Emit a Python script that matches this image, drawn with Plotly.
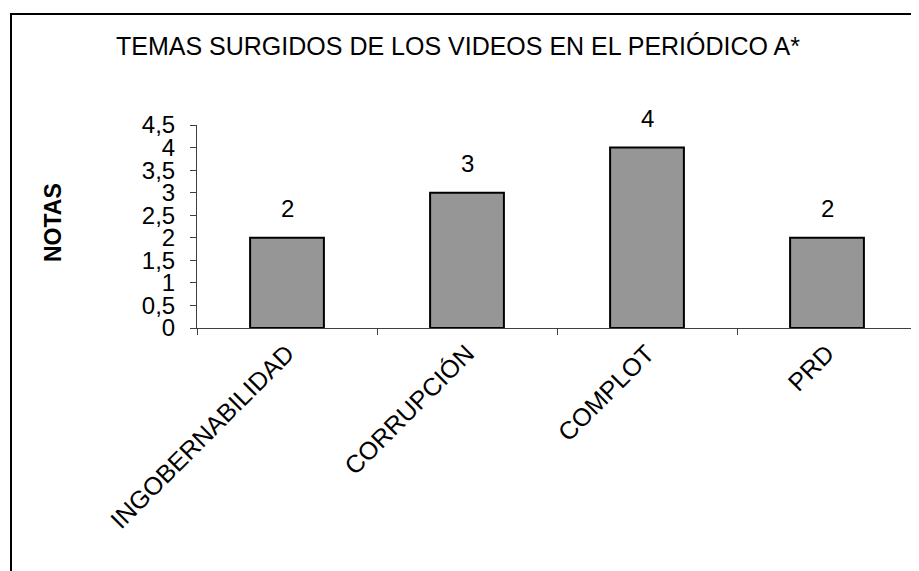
import plotly.graph_objects as go

categories = ["INGOBERNABILIDAD", "CORRUPCIÓN", "COMPLOT", "PRD"]
values = [2, 3, 4, 2]
y_ticks = [0, 0.5, 1, 1.5, 2, 2.5, 3, 3.5, 4, 4.5]

FONT = "Liberation Sans, Arial, sans-serif"
OFF = 8  # page body margin offset

L, T, R, B = 197 - OFF, 125 - OFF, 919 - (917 - OFF), 571 - (328 - OFF)
PW, PH = 919 - L - R, 571 - T - B

fig = go.Figure()
fig.add_trace(go.Bar(
    x=categories, y=values, width=0.41,
    marker=dict(color="#969696", line=dict(color="#000000", width=2)),
    hoverinfo="skip",
))

for c, v in zip(categories, values):
    fig.add_annotation(x=c, y=v, xref="x", yref="y", text=str(v), showarrow=False,
                       yanchor="middle", yshift=29,
                       font=dict(family=FONT, size=24, color="#000000"))

fig.add_annotation(x=(53 - 197) / PW, y=(328 - 223) / PH, xref="paper", yref="paper",
                   text="<b>NOTAS</b>",
                   textangle=-90, showarrow=False, xanchor="center", yanchor="middle",
                   font=dict(family=FONT, size=23, color="#000000"))

fig.add_shape(type="rect", xref="paper", yref="paper",
              x0=(11 - 197) / PW, y0=(328 - 14) / PH, x1=1.2, y1=-2.0,
              line=dict(color="#000000", width=2), fillcolor="rgba(0,0,0,0)")

fig.update_layout(
    width=919, height=571,
    margin=dict(l=L, r=R, t=T, b=B),
    paper_bgcolor="#ffffff", plot_bgcolor="#ffffff",
    separators=",.",
    showlegend=False,
    font=dict(family=FONT, size=24, color="#000000"),
    title=dict(text="TEMAS SURGIDOS DE LOS VIDEOS EN EL PERIÓDICO A*",
               x=(458 - OFF) / 919, xref="container", xanchor="center",
               y=1 - (46 - OFF) / 571, yref="container", yanchor="middle",
               font=dict(family=FONT, size=25, color="#000000")),
    xaxis=dict(showline=True, linecolor="#404040", linewidth=1,
               ticks="outside", ticklen=6, tickcolor="#404040", tickson="boundaries",
               tickangle=-45, showgrid=False, zeroline=False,
               tickfont=dict(family=FONT, size=25, color="#000000")),
    yaxis=dict(range=[0, 4.5], tickvals=y_ticks, showline=True, linecolor="#404040",
               linewidth=1, ticks="outside", ticklen=6, tickcolor="#404040",
               showgrid=False, zeroline=False, ticklabelstandoff=10,
               tickfont=dict(family=FONT, size=24, color="#000000")),
)

fig.write_html("out.html")
